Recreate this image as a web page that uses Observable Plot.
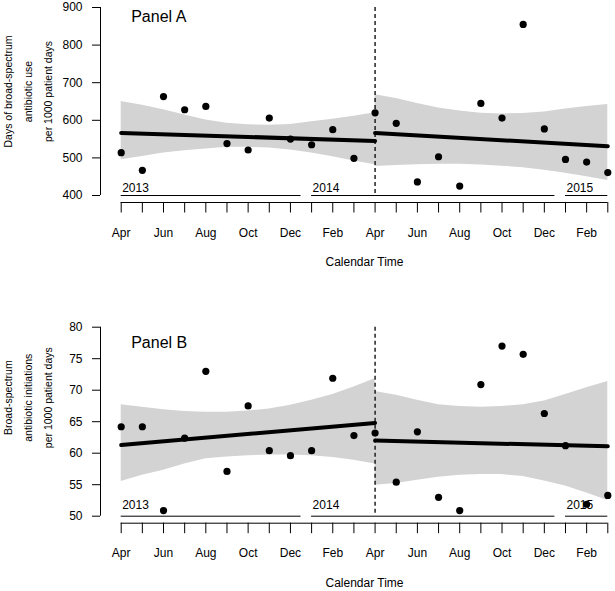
<!DOCTYPE html>
<html><head><meta charset="utf-8">
<script src="https://cdn.jsdelivr.net/npm/d3@7"></script>
<script src="https://cdn.jsdelivr.net/npm/@observablehq/plot@0.6"></script>
<style>body{margin:0;background:#fff}#chart svg{display:block}</style>
</head><body><div id="chart"></div>
<script>
// ---- data ----
const monthNames = ["Apr","May","Jun","Jul","Aug","Sep","Oct","Nov","Dec","Jan","Feb","Mar",
                    "Apr","May","Jun","Jul","Aug","Sep","Oct","Nov","Dec","Jan","Feb","Mar"];
const years = [
  {year: "2013", first: 0, last: 8},
  {year: "2014", first: 9, last: 20},
  {year: "2015", first: 21, last: 23}
];
const interruptionMonth = 12;

const valuesA = [514,467,663,628,637,538,521,606,550,535,575,499,620,592,436,503,425,645,606,855,577,496,489,461];
const upperA1 = [650,640,628,614,601,592,588,587,589,596,603,611,620];
const lowerA1 = [495,504,513,519,524,528,528,526,521,513,503,492,482];
const upperA2 = [668,658,645,633,625,619,617,618,622,630,637,642];
const lowerA2 = [477,480,482,483,483,481,478,474,467,459,450,440];
const trendA = [[566.5,545],[566,531]];

const valuesB = [64.2,64.2,50.9,62.4,73.0,57.1,67.5,60.4,59.6,60.4,71.9,62.8,63.2,55.4,63.4,53.0,50.9,70.9,77.0,75.7,66.3,61.2,51.9,53.3];
const upperB1 = [67.7,67.3,66.9,66.6,66.5,66.5,66.7,67.0,67.6,68.4,69.3,70.5,71.8];
const lowerB1 = [55.5,56.5,57.3,58.3,59.1,59.4,59.6,59.7,59.7,59.6,59.3,58.9,58.3];
const upperB2 = [69.8,69.2,68.4,67.7,67.4,67.3,67.4,67.7,68.3,69.3,70.4,71.4];
const lowerB2 = [54.9,55.2,55.7,56.2,56.5,56.6,56.6,56.3,55.6,54.8,53.7,52.5];
const trendB = [[61.3,64.8],[62.0,61.1]];

const yTicksA = [400,500,600,700,800,900];
const yTicksB = [50,55,60,65,70,75,80];

const ylabelA = ["Days of broad-spectrum", "antibiotic use", "per 1000 patient days"];
const ylabelB = ["Broad-spectrum", "antibiotic initiations", "per 1000 patient days"];

// ---- drawing ----
const FONT = "Arial, 'Liberation Sans', sans-serif";
const months = monthNames.map((name, i) => ({i, name}));
const lastMonth = months.length - 1;
const segBounds = [[0, interruptionMonth], [interruptionMonth, lastMonth]];
const labelLineX = [8.5, 28.5, 48.5];

function panel(o) {
  const ymin = o.yDomain[0], ymax = o.yDomain[1];
  const pts = o.values.map((v, i) => ({i, v}));
  const band = [
    ...o.upper1.map((u, k) => ({seg: 1, i: k, hi: u, lo: o.lower1[k]})),
    ...o.upper2.map((u, k) => ({seg: 2, i: interruptionMonth + k, hi: u, lo: o.lower2[k]}))
  ];
  const fit = o.trend.flatMap((t, s) => [
    {seg: s, i: segBounds[s][0], v: t[0]},
    {seg: s, i: segBounds[s][1], v: t[1]}
  ]);
  const yearSegs = years.map(y => ({year: y.year, start: y.first, end: Math.min(y.last + 0.5, lastMonth)}));
  const axisShift = -20.7;
  return Plot.plot({
    width: 615, height: o.height,
    marginLeft: 120.7, marginRight: 7.7, marginTop: o.marginTop, marginBottom: o.marginBottom,
    x: {domain: [0, lastMonth], axis: null},
    y: {domain: o.yDomain, axis: null},
    style: {fontFamily: FONT, fontSize: "12px", color: "#000", background: "#fff", overflow: "visible"},
    marks: [
      Plot.areaY(band, {x: "i", y1: "lo", y2: "hi", z: "seg", fill: "#d3d3d3"}),
      Plot.dot(pts, {x: "i", y: "v", r: 3.6, fill: "#000"}),
      Plot.line(fit, {x: "i", y: "v", z: "seg", stroke: "#000", strokeWidth: 4}),
      Plot.ruleX([interruptionMonth], {stroke: "#000", strokeWidth: 1.3, strokeDasharray: "4,3"}),
      // y axis
      Plot.ruleX([0], {y1: ymin, y2: ymax, dx: axisShift, stroke: "#000"}),
      Plot.axisY({ticks: o.yTicks, tickSize: 8, tickPadding: 10, dx: axisShift, fontSize: 12, label: null}),
      // year segments
      Plot.ruleY(yearSegs, {x1: "start", x2: "end", y: () => ymin, stroke: "#000"}),
      Plot.text(yearSegs, {x: "start", y: () => ymin, text: "year", textAnchor: "start", lineAnchor: "middle", dx: 1, dy: o.yearDy, fontSize: 12}),
      // month axis
      Plot.ruleY([ymin], {x1: months[0].i, x2: months[lastMonth].i, dy: 7, stroke: "#000"}),
      Plot.axisX({ticks: months.map(d => d.i), tickSize: 10.5, dy: 7, tickFormat: () => "", label: null}),
      Plot.text(months.filter(d => d.i % 2 === 0), {x: "i", y: () => ymin, text: "name", dy: o.monthDy, lineAnchor: "middle", fontSize: 12}),
      Plot.text(["Calendar Time"], {frameAnchor: "bottom", dy: 67, lineAnchor: "middle", fontSize: 12}),
      // titles
      Plot.text([o.title], {frameAnchor: "top-left", dx: 10, dy: o.titleDy, textAnchor: "start", lineAnchor: "middle", fontSize: 16}),
      ...o.ylabel.map((line, k) => Plot.text([line], {frameAnchor: "left", rotate: -90, dx: labelLineX[k] - 120.7, dy: o.ylabelDy,
        textAnchor: "middle", lineAnchor: "middle", fontSize: 10.5}))
    ]
  });
}

const chart = document.getElementById("chart");
chart.appendChild(panel({
  values: valuesA, upper1: upperA1, lower1: lowerA1, upper2: upperA2, lower2: lowerA2, trend: trendA,
  yDomain: [400, 900], yTicks: yTicksA, height: 296, marginTop: 7, marginBottom: 101,
  title: "Panel A", titleDy: 9.7, yearDy: -7, monthDy: 38,
  ylabel: ylabelA, ylabelDy: -10
}));
chart.appendChild(panel({
  values: valuesB, upper1: upperB1, lower1: lowerB1, upper2: upperB2, lower2: lowerB2, trend: trendB,
  yDomain: [50, 80], yTicks: yTicksB, height: 295, marginTop: 30.7, marginBottom: 75.3,
  title: "Panel B", titleDy: 16, yearDy: -11.5, monthDy: 37.3,
  ylabel: ylabelB, ylabelDy: -24
}));
</script>
</body></html>
